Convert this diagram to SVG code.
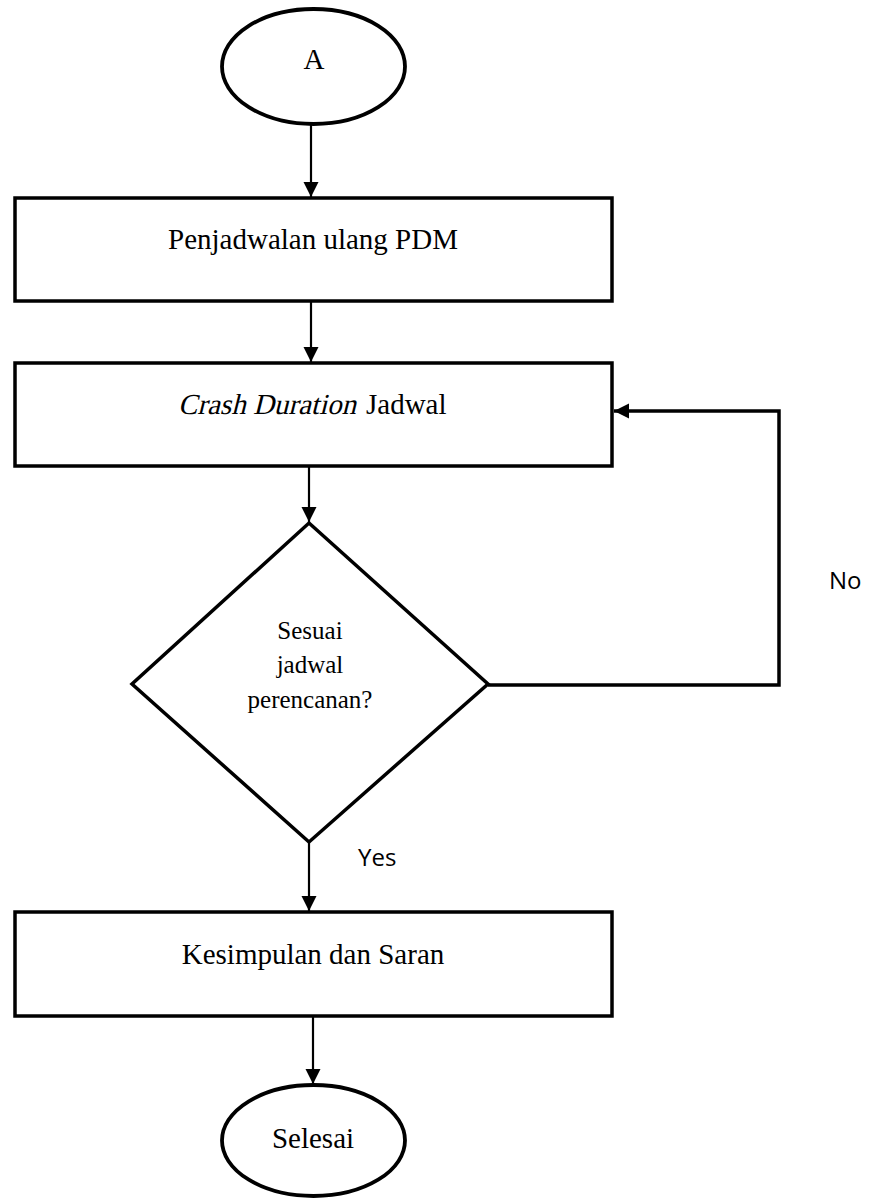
<svg xmlns="http://www.w3.org/2000/svg" width="871" height="1198" viewBox="0 0 871 1198">
  <style>
    .shape { fill: #ffffff; stroke: #000000; stroke-width: 3.5; }
    .term { fill: #ffffff; stroke: #000000; stroke-width: 3.8; }
    .lbl { font-family: "Liberation Serif", "Times New Roman", serif; font-size: 29px; fill: #000000; text-anchor: middle; }
    .lbs { font-family: "Liberation Serif", "Times New Roman", serif; font-size: 29px; fill: #000000; text-anchor: start; }
    .dlbl { font-family: "Liberation Serif", "Times New Roman", serif; font-size: 25px; fill: #000000; text-anchor: middle; }
    .edge { fill: none; stroke: #000000; stroke-width: 2.2; }
    .loop { fill: none; stroke: #000000; stroke-width: 3.5; }
    .elbl { font-family: "Open Sans", "Liberation Sans", sans-serif; font-size: 24px; fill: #000000; }
  </style>
  <defs>
    <marker id="arrow" markerUnits="userSpaceOnUse" markerWidth="16" markerHeight="16" viewBox="0 0 16 16" refX="15" refY="8" orient="auto">
      <path d="M0,0.5 L15,8 L0,15.5 Z" fill="#000000"/>
    </marker>
  </defs>
  <rect width="871" height="1198" fill="#ffffff"/>

  <g id="connectors">
    <line class="edge" x1="311" y1="124" x2="311" y2="197" marker-end="url(#arrow)"/>
    <line class="edge" x1="311" y1="301" x2="311" y2="362" marker-end="url(#arrow)"/>
    <line class="edge" x1="309" y1="466" x2="309" y2="522" marker-end="url(#arrow)"/>
    <line class="edge" x1="309" y1="842" x2="309" y2="911" marker-end="url(#arrow)"/>
    <line class="edge" x1="313" y1="1016" x2="313" y2="1084" marker-end="url(#arrow)"/>
    <polyline class="loop" points="488,685 779,685 779,411 614,411" marker-end="url(#arrow)"/>
    <text class="elbl" x="358" y="866">Yes</text>
    <text class="elbl" x="829" y="589">No</text>
  </g>

  <g id="node-a">
    <ellipse class="term" cx="313.5" cy="66.5" rx="91.5" ry="57.5"/>
    <text class="lbl" x="314" y="69">A</text>
  </g>

  <g id="node-penjadwalan">
    <rect class="shape" x="15" y="198" width="597" height="103"/>
    <text class="lbl" x="313" y="249">Penjadwalan ulang PDM</text>
  </g>

  <g id="node-crash">
    <rect class="shape" x="15" y="363" width="597" height="103"/>
    <text class="lbs" transform="translate(178,414) skewX(-14)" x="0" y="0">Crash Duration</text>
    <text class="lbs" x="366" y="414">Jadwal</text>
  </g>

  <g id="node-decision">
    <polygon class="shape" points="309,523 488,684 309,842 132,684"/>
    <text class="dlbl" x="310" y="639">Sesuai</text>
    <text class="dlbl" x="310" y="673">jadwal</text>
    <text class="dlbl" x="310" y="708">perencanan?</text>
  </g>

  <g id="node-kesimpulan">
    <rect class="shape" x="15" y="912" width="597" height="104"/>
    <text class="lbl" x="313" y="964">Kesimpulan dan Saran</text>
  </g>

  <g id="node-selesai">
    <ellipse class="term" cx="313.5" cy="1140.5" rx="91.5" ry="55.5"/>
    <text class="lbl" x="313" y="1148">Selesai</text>
  </g>
</svg>
